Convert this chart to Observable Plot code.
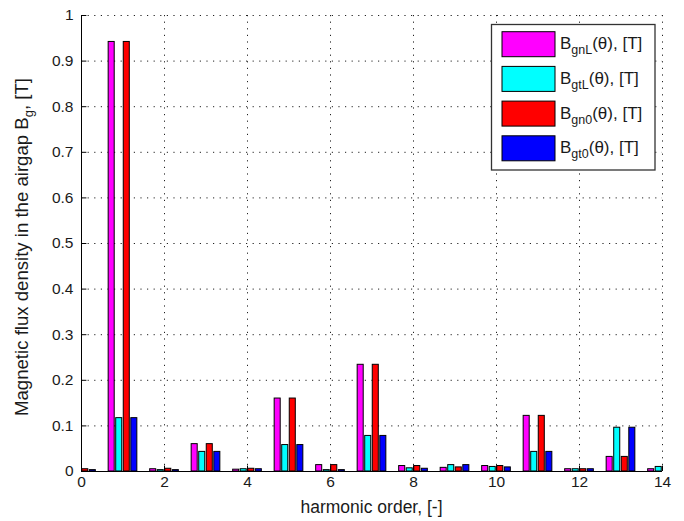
<!DOCTYPE html>
<html>
<head>
<meta charset="utf-8">
<script src="https://cdn.jsdelivr.net/npm/d3@7"></script>
<script src="https://cdn.jsdelivr.net/npm/@observablehq/plot@0.6"></script>
<style>
  html, body { margin: 0; padding: 0; background: #ffffff; }
  #chart svg { display: block; }
</style>
</head>
<body>
<div id="chart"></div>
<script>
// ---- data ----
const harmonics = [0, 1, 2, 3, 4, 5, 6, 7, 8, 9, 10, 11, 12, 13, 14];
const BgnL = [0.005, 0.942, 0.005, 0.060, 0.004, 0.160, 0.014, 0.234, 0.012, 0.008, 0.012, 0.122, 0.005, 0.032, 0.005];
const BgtL = [0.004, 0.117, 0.003, 0.043, 0.005, 0.058, 0.003, 0.078, 0.007, 0.014, 0.010, 0.043, 0.005, 0.096, 0.010];
const Bgn0 = [0.005, 0.942, 0.006, 0.060, 0.006, 0.160, 0.014, 0.234, 0.012, 0.009, 0.012, 0.122, 0.005, 0.032, 0.005];
const Bgt0 = [0.003, 0.117, 0.003, 0.043, 0.005, 0.058, 0.003, 0.078, 0.006, 0.014, 0.009, 0.043, 0.005, 0.096, 0.010];
const seriesKeys = ["BgnL", "BgtL", "Bgn0", "Bgt0"];
const seriesSubs = ["gnL", "gtL", "gn0", "gt0"];
const seriesColors = ["#ff00ff", "#00ffff", "#ff0000", "#0000ff"];
const xTicks = [0, 2, 4, 6, 8, 10, 12, 14];
const yTicks = [0, 0.1, 0.2, 0.3, 0.4, 0.5, 0.6, 0.7, 0.8, 0.9, 1];

const seriesValues = [BgnL, BgtL, Bgn0, Bgt0];
const nS = seriesKeys.length;
const groupWidth = nS / (nS + 1.5);
const slot = groupWidth / nS;
const barW = 0.8 * slot;
const rows = harmonics.flatMap((h, i) => seriesKeys.map((k, j) => ({
  h, key: k, j, v: seriesValues[j][i],
  c: h + (j - (nS - 1) / 2) * slot
})));

const font = "'Liberation Sans', Arial, Helvetica, sans-serif";
const ink = "#1a1a1a";

const svg = Plot.plot({
  width: 684,
  height: 521,
  marginLeft: 81,
  marginRight: 22,
  marginTop: 15,
  marginBottom: 50,
  style: { fontFamily: font, fontSize: "15.5px", color: ink, background: "#ffffff" },
  x: { domain: [0, 14] },
  y: { domain: [0, 1] },
  color: { domain: seriesKeys, range: seriesColors },
  marks: [
    Plot.gridX(xTicks, { stroke: "#222", strokeOpacity: 1, strokeWidth: 1, strokeDasharray: "1.2,5.4" }),
    Plot.gridY(yTicks, { stroke: "#222", strokeOpacity: 1, strokeWidth: 1, strokeDasharray: "1.2,5.4" }),
    Plot.rect(rows, {
      x1: d => d.c - barW / 2,
      x2: d => d.c + barW / 2,
      y1: 0,
      y2: "v",
      fill: "key",
      stroke: "#000",
      strokeWidth: 1,
      clip: true
    }),
    Plot.ruleX(xTicks, { x: d => d, y1: 0, y2: 0.012, stroke: "#000" }),
    Plot.ruleY(yTicks, { y: d => d, x1: 0, x2: 0.13, stroke: "#000" }),
    Plot.ruleX([0], { stroke: "#000" }),
    Plot.ruleY([0], { stroke: "#000" }),
    Plot.axisX(xTicks, { tickSize: 0, tickPadding: 4, label: null, tickFormat: d => String(d), fill: ink }),
    Plot.axisY(yTicks, { tickSize: 0, tickPadding: 8, label: null, tickFormat: d => String(+d.toFixed(1)), fill: ink })
  ]
});

const s = d3.select(svg);

// x axis label
s.append("text")
  .attr("x", 371.5).attr("y", 513)
  .attr("text-anchor", "middle")
  .attr("font-family", font).attr("font-size", 17.5).attr("fill", ink)
  .text("harmonic order, [-]");

// y axis label with subscript
const yl = s.append("text")
  .attr("transform", "translate(28,247) rotate(-90)")
  .attr("text-anchor", "middle")
  .attr("font-family", font).attr("font-size", 18.6).attr("fill", ink);
yl.append("tspan").text("Magnetic flux density in the airgap B");
yl.append("tspan").attr("font-size", 13).attr("dy", 5).text("g");
yl.append("tspan").attr("dy", -5).text(", [T]");

// legend
const lg = s.append("g").attr("text-anchor", "start");
lg.append("rect")
  .attr("x", 491.5).attr("y", 24.5).attr("width", 163.5).attr("height", 145.5)
  .attr("fill", "#ffffff").attr("stroke", "#333").attr("stroke-width", 1.3);
seriesKeys.forEach((k, j) => {
  const cy = 44.2 + j * 34.7;
  lg.append("rect")
    .attr("x", 502).attr("y", cy - 12.5).attr("width", 53).attr("height", 25)
    .attr("fill", seriesColors[j]).attr("stroke", "#000").attr("stroke-width", 1);
  const t = lg.append("text")
    .attr("x", 560).attr("y", cy + 5)
    .attr("text-anchor", "start")
    .attr("font-family", font).attr("font-size", 17).attr("fill", ink);
  t.append("tspan").text("B");
  t.append("tspan").attr("font-size", 12.5).attr("dy", 5).text(seriesSubs[j]);
  t.append("tspan").attr("dy", -5).text("(\u03b8), [T]");
});

document.getElementById("chart").appendChild(svg);
</script>
</body>
</html>
